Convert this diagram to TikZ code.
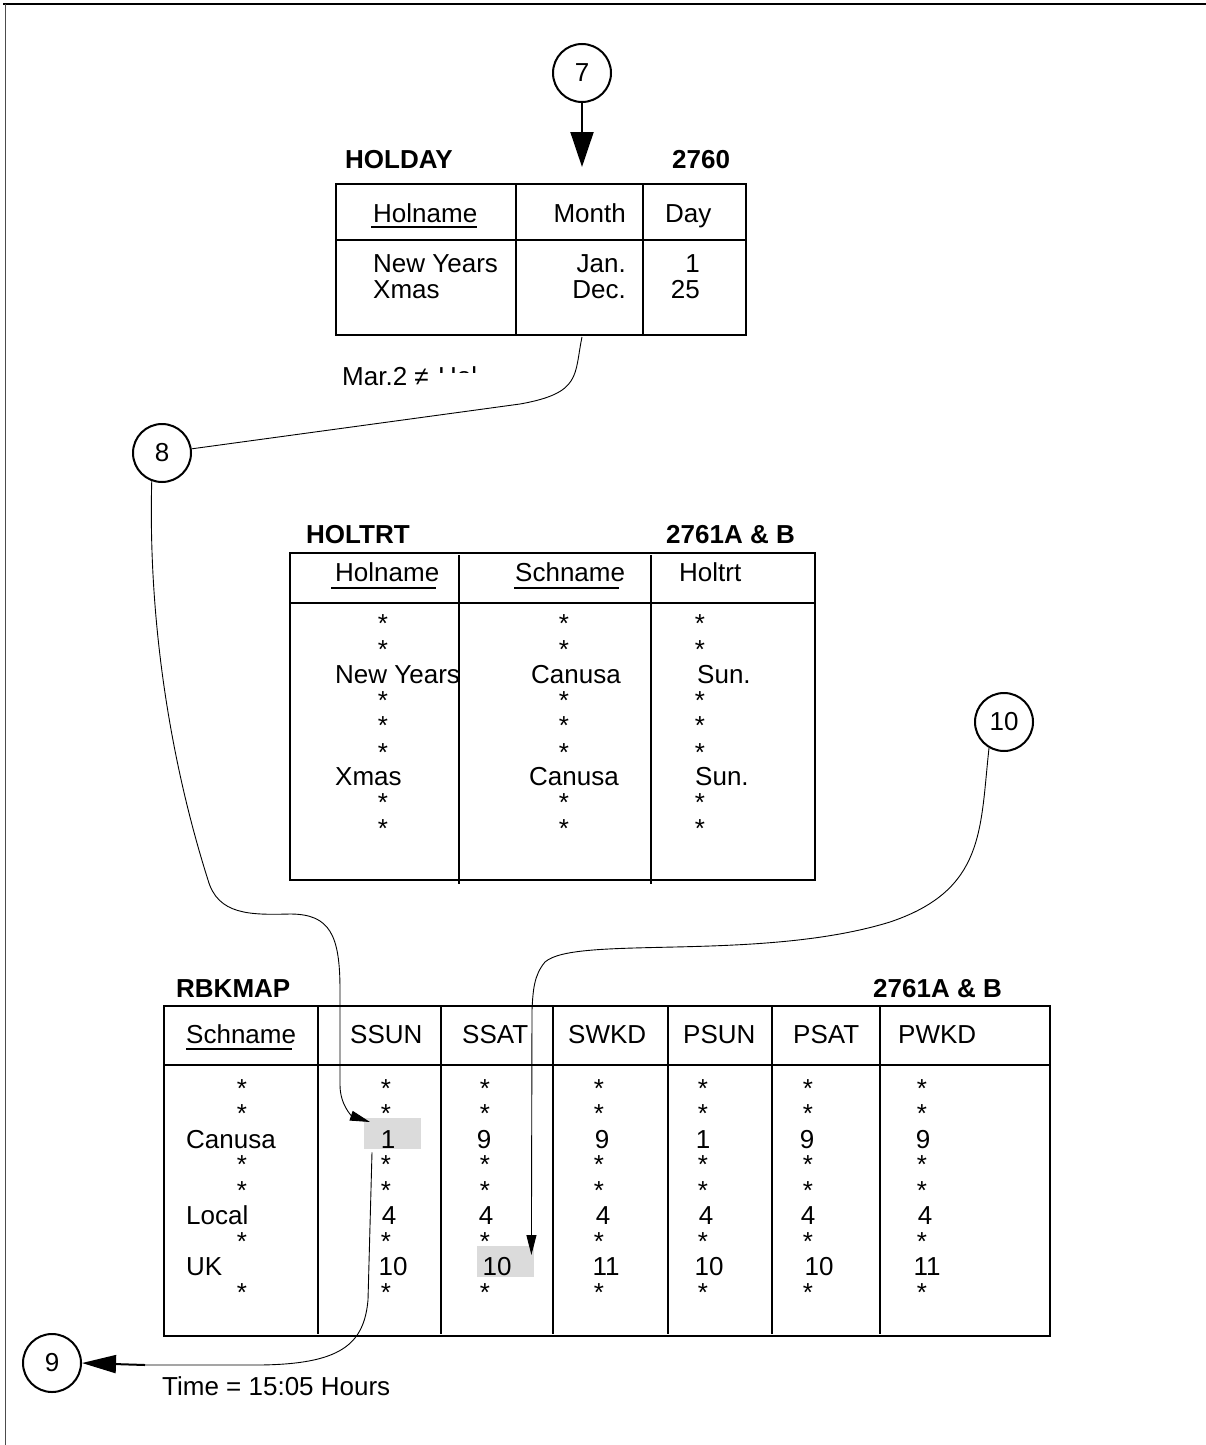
\documentclass[tikz,border=0pt]{standalone}
\usepackage{fontspec}
\setmainfont{Liberation Sans}
\usetikzlibrary{arrows.meta}
\begin{document}
\begin{tikzpicture}[x=1pt,y=-1pt,
  txt/.style={inner sep=0pt, font=\fontsize{26}{30}\selectfont},
  ttl/.style={inner sep=0pt, font=\fontsize{26}{30}\selectfont\bfseries},
  tab/.style={line width=1.4pt},
  uline/.style={line width=2pt},
  circ/.style={draw, circle, line width=2pt, minimum size=58pt, inner sep=0pt, font=\fontsize{26}{30}\selectfont},
  conn/.style={line width=0.9pt},
  hl/.style={fill=black!14, draw=none, inner sep=0pt, anchor=north west},
  bigtip/.style={-{Triangle[length=35pt,width=23pt]}},
  midtip/.style={-{Triangle[length=34pt,width=18pt]}},
  smalltip/.style={-{Triangle[length=20pt,width=10pt]}},
  ]
\useasboundingbox (0,0) rectangle (1206,1445);
% frame
\draw[line width=2pt] (3,4.5) -- (1206,4.5);
\draw[line width=1pt, black!70] (5,4) -- (5,1445);

% ---------- HOLDAY ----------
\node[ttl, anchor=base west] (holdayT) at (345,168) {HOLDAY};
\node[ttl, anchor=base west] (holdayN) at (672,168) {2760};
\draw[tab] (336,184) rectangle (746,335);
\draw[tab] (336,240) -- (746,240);
\draw[tab] (516,184) -- (516,335);
\draw[tab] (643,184) -- (643,335);
\node[txt, anchor=base west] (hd1) at (373,222) {Holname};
\draw[uline] ([xshift=-2pt,yshift=-5pt]hd1.base west) -- ([yshift=-5pt]hd1.base east);
\node[txt, anchor=base east] (hd2) at (626,222) {Month};
\node[txt, anchor=base west] (hd3) at (665,222) {Day};
\node[txt, anchor=base west] (hr1a) at (373,272) {New Years};
\node[txt, anchor=base west] (hr2a) at (373,298) {Xmas};
\node[txt, anchor=base east] (hr1b) at (626,272) {Jan.};
\node[txt, anchor=base east] (hr2b) at (626,298) {Dec.};
\node[txt, anchor=base east] (hr1c) at (700,272) {1};
\node[txt, anchor=base east] (hr2c) at (700,298) {25};
\coordinate (holdayMonth) at (582,337);

% circle 7
\node[circ] (c7) at (582,73) {7};
\coordinate (a7) at (582,167);
\draw[line width=2pt, bigtip] (c7) -- (a7);

% Mar.2 text (partly cut)
\node[txt, anchor=base west] (mar) at (342,385) {Mar.2 ≠};
\begin{scope}
\clip (436,340) rectangle (500,372.5);
\node[txt, anchor=base west] (marH) at (438,385) {Hol};
\end{scope}

% circle 8
\node[circ] (c8) at (162,453) {8};
\draw[conn] (holdayMonth) .. controls (574,375) and (582,393) .. (520,404) -- (c8.8);

% ---------- HOLTRT ----------
\node[ttl, anchor=base west] (holtrtT) at (306,543) {HOLTRT};
\node[ttl, anchor=base west] (holtrtN) at (666,543) {2761A \& B};
\draw[tab] (290,553) rectangle (815,880);
\draw[tab] (290,603) -- (815,603);
\draw[tab] (459,555) -- (459,884);
\draw[tab] (651,555) -- (651,884);
\node[txt, anchor=base west] (th1) at (335,581) {Holname};
\draw[uline] ([xshift=-4pt,yshift=-7pt]th1.base west) -- ([xshift=-3pt,yshift=-7pt]th1.base east);
\node[txt, anchor=base west] (th2) at (515,581) {Schname};
\draw[uline] ([xshift=-1pt,yshift=-7pt]th2.base west) -- ([xshift=-6pt,yshift=-7pt]th2.base east);
\node[txt, anchor=base west] (th3) at (679,581) {Holtrt};
\foreach \x [count=\c] in {383,564,700}{
  \foreach \y [count=\r] in {632,658,709,734,761,811,837}{
    \node[txt, anchor=base] (hstar-\c-\r) at (\x,\y) {*};
  }}
\node[txt, anchor=base west] (tr1a) at (335,683) {New Years};
\node[txt, anchor=base west] (tr1b) at (531,683) {Canusa};
\node[txt, anchor=base west] (tr1c) at (697,683) {Sun.};
\node[txt, anchor=base west] (tr2a) at (335,785) {Xmas};
\node[txt, anchor=base west] (tr2b) at (529,785) {Canusa};
\node[txt, anchor=base west] (tr2c) at (695,785) {Sun.};

% circle 10
\node[circ] (c10) at (1004,722) {10};

% ---------- RBKMAP ----------
\node[ttl, anchor=base west] (rbkT) at (176,997) {RBKMAP};
\node[ttl, anchor=base west] (rbkN) at (873,997) {2761A \& B};
\node[hl, minimum width=57pt, minimum height=31pt] (hl1) at (364,1118) {};
\node[hl, minimum width=57pt, minimum height=31pt] (hl2) at (477,1246) {};
\draw[tab] (164,1006) rectangle (1050,1336);
\draw[tab] (164,1065) -- (1050,1065);
\foreach \x in {318,441,553,668,772,880}{\draw[tab] (\x,1006) -- (\x,1334);}
\node[txt, anchor=base west] (rh1) at (186,1043) {Schname};
\draw[uline] ([yshift=-6pt]rh1.base west) -- ([xshift=-4pt,yshift=-6pt]rh1.base east);
\node[txt, anchor=base west] (rh2) at (350,1043) {SSUN};
\node[txt, anchor=base west] (rh3) at (462,1043) {SSAT};
\node[txt, anchor=base west] (rh4) at (568,1043) {SWKD};
\node[txt, anchor=base west] (rh5) at (683,1043) {PSUN};
\node[txt, anchor=base west] (rh6) at (793,1043) {PSAT};
\node[txt, anchor=base west] (rh7) at (898,1043) {PWKD};
\foreach \x [count=\c] in {242,386,485,599,703,808,922}{
  \foreach \y [count=\r] in {1097,1122.5,1173.5,1199,1250,1301}{
    \node[txt, anchor=base] (rstar-\c-\r) at (\x,\y) {*};
  }}
\node[txt, anchor=base west] (rcan) at (186,1148) {Canusa};
\node[txt, anchor=base west] (rloc) at (186,1224.5) {Local};
\node[txt, anchor=base west] (ruk) at (186,1275.5) {UK};
\foreach \x/\v [count=\c] in {388/1,484/9,602/9,703/1,807/9,923/9}{
  \node[txt, anchor=base] (rv1-\c) at (\x,1148) {\v};}
\foreach \x/\v [count=\c] in {389/4,486/4,603/4,706/4,808/4,925/4}{
  \node[txt, anchor=base] (rv2-\c) at (\x,1224.5) {\v};}
\foreach \x/\v [count=\c] in {393/10,497/10,606/11,709/10,819/10,927/11}{
  \node[txt, anchor=base] (rv3-\c) at (\x,1275.5) {\v};}

% circle 9
\node[circ] (c9) at (52,1363) {9};

% ---------- connectors ----------
\draw[conn, smalltip] (c8.250) .. controls (148,620) and (170,760) .. (208,880)
  .. controls (218,915) and (250,915) .. (290,914)
  .. controls (330,914) and (340,935) .. (340,990) -- (340,1085)
  .. controls (340,1105) and (352,1116) .. ([xshift=6pt,yshift=-4pt]hl1.north west);
\draw[conn, smalltip] (c10.240) .. controls (980,830) and (985,890) .. (890,922)
  .. controls (760,962) and (575,935) .. (545,962)
  .. controls (534,975) and (533,990) .. (532,1010)
  -- ([xshift=-3pt,yshift=-9pt]hl2.north east);
\coordinate (shaft9) at (145,1365);
\draw[conn] ([xshift=8pt,yshift=-3pt]hl1.south west) -- (368,1300)
  .. controls (364,1345) and (340,1364) .. (260,1365) -- (shaft9);
\draw[line width=2pt, midtip] (shaft9) -- (c9.east);

\node[txt, anchor=base west] (time) at (162,1395) {Time = 15:05 Hours};
\end{tikzpicture}
\end{document}
